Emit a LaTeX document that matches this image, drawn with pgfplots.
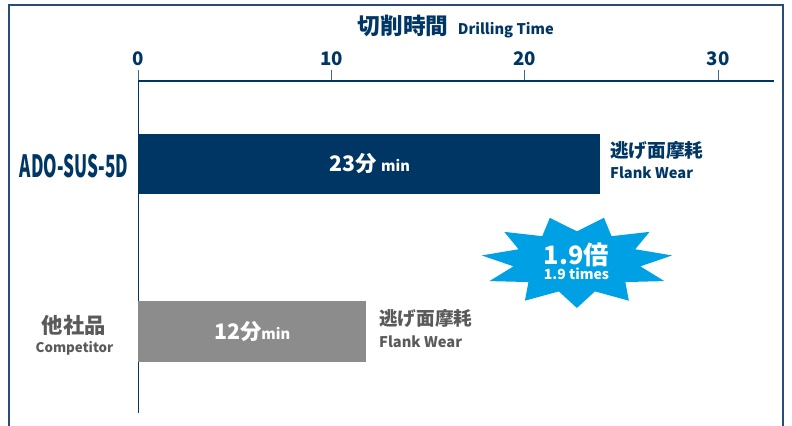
\documentclass[border=0pt]{standalone}
\usepackage{fontspec}
\usepackage{pgfplots}
\pgfplotsset{compat=1.18}
\usetikzlibrary{shapes.geometric}
\setmainfont{Noto Sans CJK JP}
\newfontfamily\condfont{Noto Sans CJK JP}[FakeStretch=0.56]
\definecolor{navy}{RGB}{0,54,99}
\definecolor{barg}{RGB}{140,140,140}
\definecolor{txtg}{RGB}{90,90,90}
\definecolor{starb}{RGB}{0,160,228}
\definecolor{framec}{RGB}{40,75,120}
\newcommand{\fs}[1]{\fontsize{#1}{#1}\selectfont}

\begin{document}
\begin{tikzpicture}
\begin{axis}[
    scale only axis,
    width=476.8pt, height=249pt,
    xmin=0, xmax=32.886,
    ymin=13, ymax=345,
    axis x line=top, axis y line=left,
    axis line style={-, navy, line width=0.8pt},
    xtick={0,10,20,30}, xticklabels={0,10,20,30},
    tick align=outside, major tick length=8.25pt,
    tick style={navy!75, line width=0.8pt},
    ytick=\empty,
    xticklabel style={font=\bfseries\fs{14}, text=navy},
    clip=false,
]
% frame and page box
\draw[framec, line width=1pt] (axis cs:-6.69,-4) -- (axis cs:-6.69,421) -- (axis cs:33.35,421) -- (axis cs:33.35,-4);
\coordinate (BL) at (axis cs:-7.155,0);
\coordinate (TR) at (axis cs:33.818,426);

% bars
\addplot[xbar, bar width=60, bar shift=0pt, fill=navy, draw=none] coordinates {(23.9,262)};
\addplot[xbar, bar width=61, bar shift=0pt, fill=barg, draw=none] coordinates {(11.8,94.5)};

% title
\node[anchor=base, text=navy, font=\bfseries] at (axis cs:16.43,391)
    {\fs{17}切削時間\hspace{7pt}\fs{11}Drilling Time};

% category labels
\node[text=navy, font=\condfont\bfseries\fs{23}] at (axis cs:-3.33,260) {ADO-SUS-5D};
\node[text=txtg, font=\bfseries\fs{16}] at (axis cs:-3.33,101) {他社品};
\node[text=txtg, font=\bfseries\fs{10}] at (axis cs:-3.30,77.5) {Competitor};

% values in the bars
\node[text=white, font=\bfseries] at (axis cs:11.98,262) {\fs{16}23分\hspace{3pt}\fs{11}min};
\node[text=white, font=\bfseries] at (axis cs:5.89,94.5) {\fs{16}12分\fs{11}min};

% notes at the bar ends
\node[anchor=base west, inner sep=0pt, text=navy, font=\bfseries\fs{14}] at (axis cs:24.40,268) {逃げ面摩耗};
\node[anchor=base west, inner sep=0pt, text=navy, font=\bfseries\fs{11}] at (axis cs:24.40,247) {Flank Wear};
\node[anchor=base west, inner sep=0pt, text=txtg, font=\bfseries\fs{14}] at (axis cs:12.45,100) {逃げ面摩耗};
\node[anchor=base west, inner sep=0pt, text=txtg, font=\bfseries\fs{11}] at (axis cs:12.45,78) {Flank Wear};

% starburst
\node[star, star points=11, star point ratio=1.5, shape border rotate=180,
      fill=starb, draw=none, minimum size=69pt, inner sep=0pt, xscale=2.09]
      at (axis cs:22.69,164) {};
\node[anchor=base, text=white, font=\bfseries\fs{19}] at (axis cs:22.67,161) {1.9倍};
\node[anchor=base, text=white, font=\bfseries\fs{10.5}] at (axis cs:22.67,146) {1.9 times};
\end{axis}
\pgfresetboundingbox
\path[use as bounding box] (BL) rectangle (TR);
\end{tikzpicture}
\end{document}
